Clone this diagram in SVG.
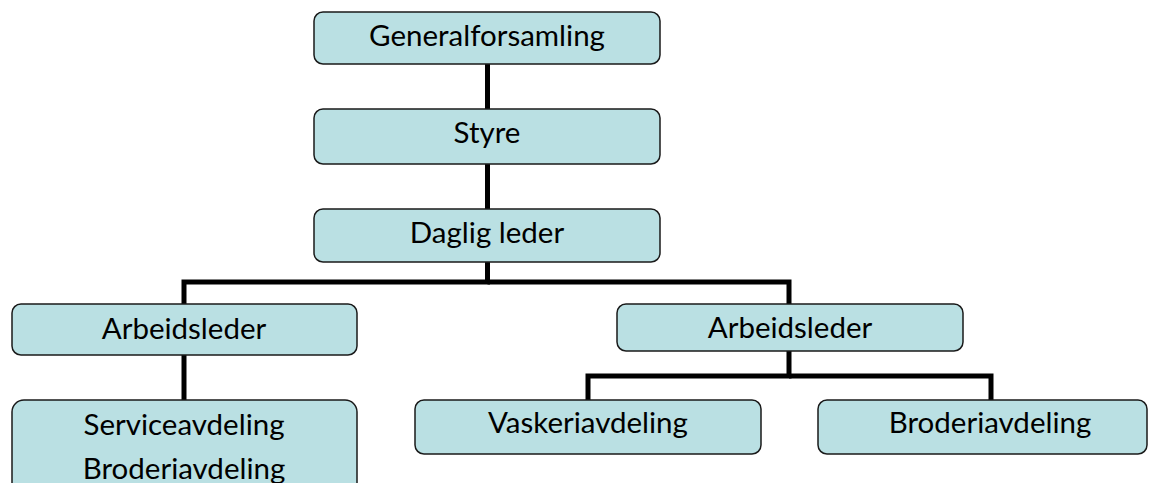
<svg xmlns="http://www.w3.org/2000/svg" width="1157" height="483" viewBox="0 0 1157 483">
<style>
.box{fill:#bae0e3;stroke:#1a1a1a;stroke-width:1.5}
.lbl{font-family:Lato,"Open Sans",sans-serif;font-size:29.5px;fill:#000;text-anchor:middle}
.con{fill:none;stroke:#000;stroke-width:5;stroke-linejoin:miter}
</style>
<rect width="1157" height="483" fill="#fff"/>
<g id="connectors">
<path class="con" d="M487.5 64V109"/>
<path class="con" d="M487.5 164V209"/>
<path class="con" d="M487.5 262V282H184V304"/>
<path class="con" d="M487.5 282H789V304"/>
<path class="con" d="M184 355V400"/>
<path class="con" d="M789 351V376H588V400"/>
<path class="con" d="M789 376H991V400"/>
</g>
<g id="generalforsamling"><rect class="box" x="314" y="12" width="346" height="52" rx="9"/><text class="lbl" x="487" y="46">Generalforsamling</text></g>
<g id="styre"><rect class="box" x="314" y="109" width="346" height="55" rx="9"/><text class="lbl" x="487" y="143">Styre</text></g>
<g id="daglig-leder"><rect class="box" x="314" y="209" width="346" height="53" rx="9"/><text class="lbl" x="487" y="243">Daglig leder</text></g>
<g id="arbeidsleder-1"><rect class="box" x="12" y="304" width="345" height="51" rx="9"/><text class="lbl" x="184" y="339">Arbeidsleder</text></g>
<g id="arbeidsleder-2"><rect class="box" x="617" y="304" width="346" height="47" rx="9"/><text class="lbl" x="790" y="338">Arbeidsleder</text></g>
<g id="service"><rect class="box" x="12" y="400" width="345" height="100" rx="12"/><text class="lbl" x="184" y="435">Serviceavdeling</text><text class="lbl" x="184" y="479">Broderiavdeling</text></g>
<g id="vaskeri"><rect class="box" x="415" y="400" width="346" height="54" rx="9"/><text class="lbl" x="588" y="433">Vaskeriavdeling</text></g>
<g id="broderi"><rect class="box" x="818" y="400" width="329" height="54" rx="9"/><text class="lbl" x="990" y="433">Broderiavdeling</text></g>
</svg>
